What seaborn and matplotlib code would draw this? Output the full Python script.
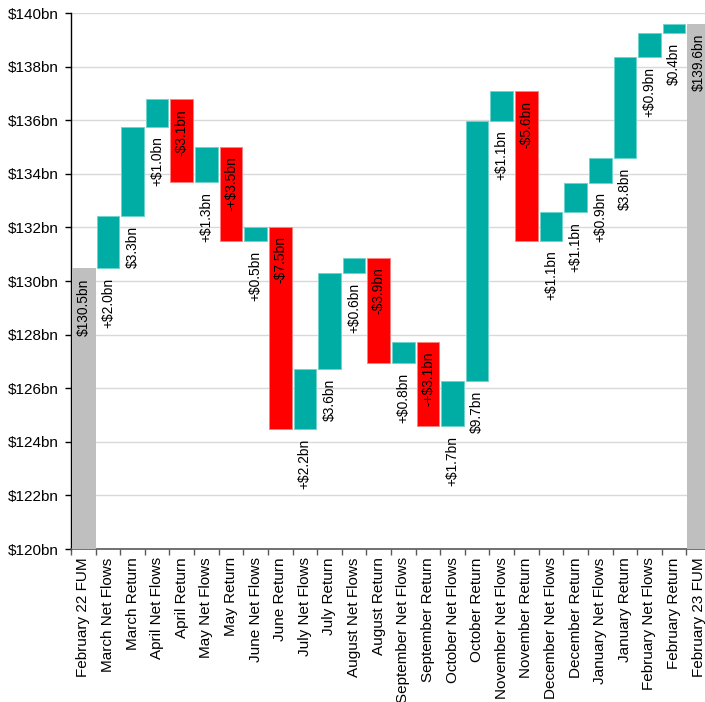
import numpy as np
import pandas as pd
import matplotlib
matplotlib.use("Agg")
import matplotlib.pyplot as plt
import seaborn as sns
from matplotlib.ticker import FixedLocator, FuncFormatter

# ---------------- data ----------------
categories = [
    "February 22 FUM", "March Net Flows", "March Return", "April Net Flows",
    "April Return", "May Net Flows", "May Return", "June Net Flows",
    "June Return", "July Net Flows", "July Return", "August Net Flows",
    "August Return", "September Net Flows", "September Return",
    "October Net Flows", "October Return", "November Net Flows",
    "November Return", "December Net Flows", "December Return",
    "January Net Flows", "January Return", "February Net Flows",
    "February Return", "February 23 FUM",
]
start_fum = 130.47
end_fum = 139.60
deltas = [1.96, 3.32, 1.03, -3.10, 1.33, -3.51, 0.53, -7.54, 2.23, 3.59,
          0.56, -3.93, 0.78, -3.13, 1.68, 9.70, 1.12, -5.59, 1.07, 1.10,
          0.93, 3.76, 0.88, 0.36]
bar_labels = [
    "$130.5bn", "+$2.0bn", "$3.3bn", "+$1.0bn", "-$3.1bn", "+$1.3bn",
    "-+$3.5bn", "+$0.5bn", "-$7.5bn", "+$2.2bn", "$3.6bn", "+$0.6bn",
    "-$3.9bn", "+$0.8bn", "-+$3.1bn", "+$1.7bn", "$9.7bn", "+$1.1bn",
    "-$5.6bn", "+$1.1bn", "+$1.1bn", "+$0.9bn", "$3.8bn", "+$0.9bn",
    "$0.4bn", "$139.6bn",
]
y_ticks = [120, 122, 124, 126, 128, 130, 132, 134, 136, 138, 140]

# ---------------- styles ----------------
TEAL = "#00ADA5"
RED = "#FF0000"
GREY = "#BFBFBF"
EDGE = {TEAL: "#6FD3CE", RED: "#FF7F7F", GREY: "#BFBFBF"}

# build floating-bar geometry from the values
bottoms, heights, colors, anchors = [], [], [], []
bottoms.append(0.0); heights.append(start_fum); colors.append(GREY); anchors.append(start_fum)
level = start_fum
for d in deltas:
    new = level + d
    bottoms.append(min(level, new))
    heights.append(abs(d))
    colors.append(TEAL if d >= 0 else RED)
    anchors.append(level)
    level = new
bottoms.append(0.0); heights.append(end_fum); colors.append(GREY); anchors.append(end_fum)

df = pd.DataFrame({"category": categories, "height": heights})

sns.set_theme(style="white")
plt.rcParams["font.family"] = ["Liberation Sans", "DejaVu Sans"]

fig = plt.figure(figsize=(7.05, 7.02), dpi=100)
ax = fig.add_axes([71 / 705, 153 / 702, 640 / 705, 536 / 702])

sns.barplot(data=df, x="category", y="height", order=categories,
            bottom=np.array(bottoms), width=0.92, color=TEAL,
            errorbar=None, ax=ax, linewidth=0.7, zorder=3)

for patch, c in zip(ax.patches, colors):
    patch.set_facecolor(c)
    patch.set_edgecolor(EDGE[c])

# labels
for i, (lab, a) in enumerate(zip(bar_labels, anchors)):
    ax.annotate(lab, xy=(i, a), xytext=(0, -7), textcoords="offset points",
                rotation=90, ha="center", va="top", fontsize=9.9,
                color="black", zorder=5)

ax.set_xlim(-0.5, len(categories) - 0.5)
ax.set_ylim(120, 140)
ax.yaxis.set_major_locator(FixedLocator(y_ticks))
ax.yaxis.set_major_formatter(FuncFormatter(lambda v, p: f"${v:.0f}bn"))
ax.grid(axis="y", color="#D9D9D9", linewidth=1.0, zorder=0)
ax.set_axisbelow(True)

ax.set_xlabel("")
ax.set_ylabel("")
ax.set_xticks(range(len(categories)))
ax.set_xticklabels(categories, rotation=90, fontsize=11, color="black")
ax.xaxis.set_minor_locator(FixedLocator(np.arange(-0.5, len(categories), 1.0)))
ax.tick_params(axis="x", which="major", length=0, pad=6)
ax.tick_params(axis="x", which="minor", bottom=True, length=4, width=1, color="#595959")
ax.tick_params(axis="y", which="major", left=True, length=4, width=1,
               color="black", labelsize=11, labelcolor="black", pad=5)

for s in ["top", "right"]:
    ax.spines[s].set_visible(False)
ax.spines["left"].set_color("black")
ax.spines["left"].set_linewidth(1.0)
ax.spines["bottom"].set_color("#595959")
ax.spines["bottom"].set_linewidth(1.2)

fig.savefig("out.png", dpi=100, facecolor="white")
